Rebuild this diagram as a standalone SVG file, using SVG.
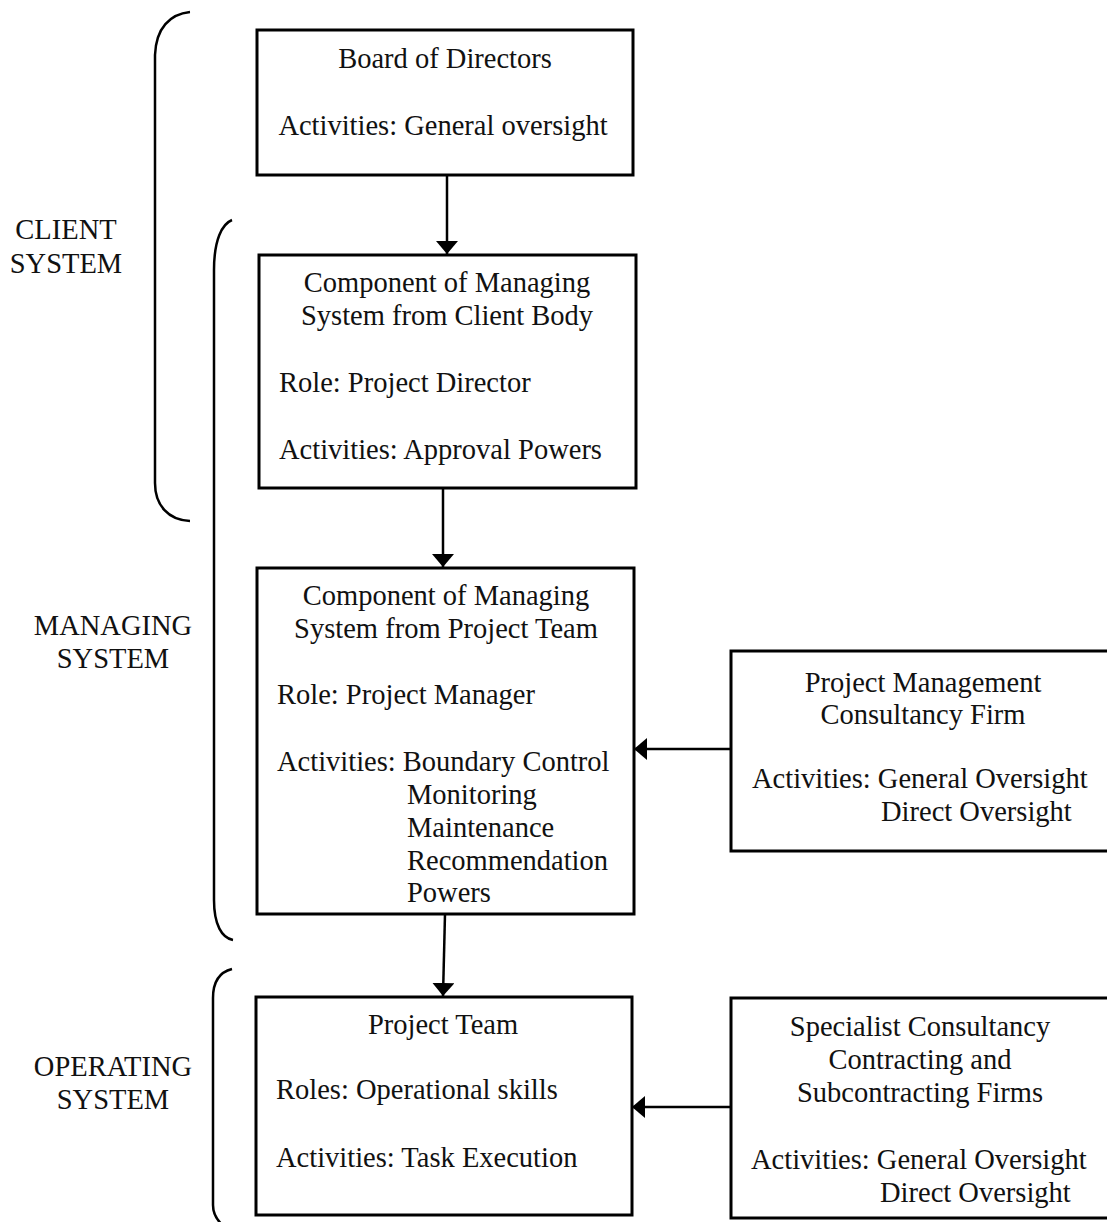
<svg xmlns="http://www.w3.org/2000/svg" width="1107" height="1222" viewBox="0 0 1107 1222">
<style>
  .box { fill: #ffffff; stroke: #000; stroke-width: 3; }
  .t { font-family: "Liberation Serif", "Times New Roman", serif; font-size: 28.5px; fill: #111; }
  .c { text-anchor: middle; }
  .brace { fill: none; stroke: #000; stroke-width: 2.5; }
  .conn { fill: none; stroke: #000; stroke-width: 2.5; }
</style>
<defs>
  <marker id="arrow" viewBox="0 0 13 22" refX="13" refY="11" markerWidth="13" markerHeight="22" markerUnits="userSpaceOnUse" orient="auto">
    <path d="M0,0 L13,11 L0,22 Z" fill="#000"/>
  </marker>
</defs>
<rect width="1107" height="1222" fill="#ffffff"/>

<g id="braces">
  <path class="brace" d="M190,12 C170,14 156,28 155,55 L155,483 C155,505 168,520 190,521"/>
  <path class="brace" d="M232,220 C222,224 214,240 214,270 L214,900 C214,925 222,938 233,940"/>
  <path class="brace" d="M232,969 C220,972 213,982 213,998 L213,1205 C213,1215 218,1222 226,1228"/>
</g>

<g id="labels">
  <text class="t c" x="66" y="239">CLIENT</text>
  <text class="t c" x="66" y="273">SYSTEM</text>
  <text class="t c" x="113" y="635">MANAGING</text>
  <text class="t c" x="113" y="668">SYSTEM</text>
  <text class="t c" x="113" y="1076">OPERATING</text>
  <text class="t c" x="113" y="1109">SYSTEM</text>
</g>

<g id="connectors">
  <line class="conn" x1="447" y1="175" x2="447" y2="254" marker-end="url(#arrow)"/>
  <line class="conn" x1="443" y1="488" x2="443" y2="567" marker-end="url(#arrow)"/>
  <line class="conn" x1="445" y1="914" x2="443" y2="996" marker-end="url(#arrow)"/>
  <line class="conn" x1="731" y1="749" x2="634" y2="749" marker-end="url(#arrow)"/>
  <line class="conn" x1="731" y1="1107" x2="632" y2="1107" marker-end="url(#arrow)"/>
</g>

<g id="board">
  <rect class="box" x="257" y="30" width="376" height="145"/>
  <text class="t c" x="445" y="68">Board of Directors</text>
  <text class="t c" x="443" y="135">Activities: General oversight</text>
</g>

<g id="client-component">
  <rect class="box" x="259" y="255" width="377" height="233"/>
  <text class="t c" x="447" y="292">Component of Managing</text>
  <text class="t c" x="447" y="325">System from Client Body</text>
  <text class="t" x="279" y="392">Role: Project Director</text>
  <text class="t" x="279" y="459">Activities: Approval Powers</text>
</g>

<g id="team-component">
  <rect class="box" x="257" y="568" width="377" height="346"/>
  <text class="t c" x="446" y="605">Component of Managing</text>
  <text class="t c" x="446" y="638">System from Project Team</text>
  <text class="t" x="277" y="704">Role: Project Manager</text>
  <text class="t" x="277" y="771">Activities: Boundary Control</text>
  <text class="t" x="407" y="804">Monitoring</text>
  <text class="t" x="407" y="837">Maintenance</text>
  <text class="t" x="407" y="870">Recommendation</text>
  <text class="t" x="407" y="902">Powers</text>
</g>

<g id="project-team">
  <rect class="box" x="256" y="997" width="376" height="218"/>
  <text class="t c" x="443" y="1034">Project Team</text>
  <text class="t" x="276" y="1099">Roles: Operational skills</text>
  <text class="t" x="276" y="1167">Activities: Task Execution</text>
</g>

<g id="pm-consultancy">
  <rect class="box" x="731" y="651" width="390" height="200"/>
  <text class="t c" x="923" y="692">Project Management</text>
  <text class="t c" x="923" y="724">Consultancy Firm</text>
  <text class="t" x="752" y="788">Activities: General Oversight</text>
  <text class="t" x="881" y="821">Direct Oversight</text>
</g>

<g id="specialist-firms">
  <rect class="box" x="731" y="998" width="390" height="220"/>
  <text class="t c" x="920" y="1036">Specialist Consultancy</text>
  <text class="t c" x="920" y="1069">Contracting and</text>
  <text class="t c" x="920" y="1102">Subcontracting Firms</text>
  <text class="t" x="751" y="1169">Activities: General Oversight</text>
  <text class="t" x="880" y="1202">Direct Oversight</text>
</g>
</svg>
